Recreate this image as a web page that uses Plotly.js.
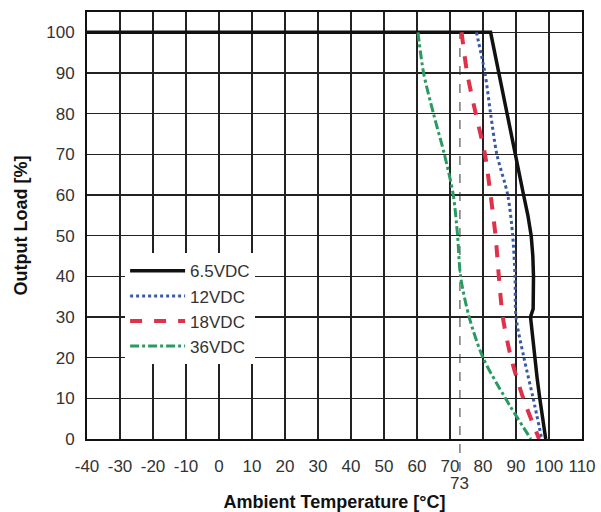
<!DOCTYPE html>
<html>
<head>
<meta charset="utf-8">
<script src="https://cdn.plot.ly/plotly-3.0.1.min.js"></script>
<style>html,body{margin:0;padding:0;background:#fff;}#chart{width:601px;height:512px;}</style>
</head>
<body>
<div id="chart"></div>
<script>
// Series data: ambient temperature (°C) vs output load (%)
const seriesNames = ["6.5VDC", "12VDC", "18VDC", "36VDC"];
const temp65 = [-40, 82.3, 92.3, 93.6, 94.6, 95.1, 95.3, 95.4, 95.2, 94.4, 95.0, 95.7, 96.4, 97.2, 98.1, 99];
const load65 = [100, 100, 60, 55, 50, 45, 40, 35, 32, 30, 25, 20, 15, 10, 5, 0];
const temp12 = [78, 80.6, 82.3, 84.2, 87.5, 89, 89.7, 90, 92.4, 95.2, 97.8];
const load12 = [100, 90, 80, 70, 60, 50, 40, 30, 20, 10, 0];
const temp18 = [73.5, 75.2, 77.8, 80.6, 82.3, 83.8, 84.8, 86, 88.5, 92.2, 97];
const load18 = [100, 90, 80, 70, 60, 50, 40, 30, 20, 10, 0];
const temp36 = [60.3, 62, 65, 68.3, 71, 72.3, 73.2, 75.8, 80, 86.8, 94.5];
const load36 = [100, 90, 80, 70, 60, 50, 40, 30, 20, 10, 0];
const xTicks = [-40, -30, -20, -10, 0, 10, 20, 30, 40, 50, 60, 70, 80, 90, 100, 110];
const yTicks = [0, 10, 20, 30, 40, 50, 60, 70, 80, 90, 100];
const markTemp = 73;

const FONT = "'Liberation Sans Narrow', 'Arial Narrow', 'Liberation Sans', Arial, sans-serif";

const traces = [
  {x: temp65, y: load65, name: seriesNames[0], mode: "lines", line: {color: "#111111", width: 3.5, dash: "solid"}},
  {x: temp12, y: load12, name: seriesNames[1], mode: "lines", line: {color: "#3a5aa6", width: 3, dash: "dot", shape: "spline", smoothing: 0.8}},
  {x: temp18, y: load18, name: seriesNames[2], mode: "lines", line: {color: "#e0304a", width: 4, dash: "dash", shape: "spline", smoothing: 0.8}},
  {x: temp36, y: load36, name: seriesNames[3], mode: "lines", line: {color: "#2a9a62", width: 3, dash: "dashdot", shape: "spline", smoothing: 0.8}}
];

const layout = {
  width: 601, height: 512,
  margin: {l: 87, r: 19, t: 12, b: 73},
  paper_bgcolor: "#fff", plot_bgcolor: "#fff",
  font: {family: FONT, size: 17, color: "#333"},
  showlegend: true,
  legend: {
    x: 0.077, y: 0.435, xanchor: "left", yanchor: "top",
    bgcolor: "#ffffff", borderwidth: 0,
    font: {family: FONT, size: 17, color: "#333"},
    itemwidth: 55, tracegroupgap: 0
  },
  xaxis: {
    range: [-40, 110], tickvals: xTicks, ticktext: xTicks.map(String),
    showgrid: true, gridcolor: "#222", gridwidth: 1.5,
    zeroline: false, showline: true, linecolor: "#111", linewidth: 2, mirror: true,
    ticks: "", ticklabelstandoff: 11,
    title: {text: "<b>Ambient Temperature [°C]</b>", font: {family: FONT, size: 18, color: "#111"}, standoff: 30}
  },
  yaxis: {
    range: [0, 105], tickvals: yTicks, ticktext: yTicks.map(String),
    showgrid: true, gridcolor: "#222", gridwidth: 1.5,
    zeroline: false, showline: true, linecolor: "#111", linewidth: 2, mirror: true,
    ticks: "", ticklabelstandoff: 7,
    title: {text: "<b>Output Load [%]</b>", font: {family: FONT, size: 18, color: "#111"}, standoff: 14}
  },
  shapes: [
    {type: "line", xref: "x", yref: "paper", x0: markTemp, x1: markTemp, y0: -0.075, y1: 100/105,
     line: {color: "#777", width: 1.5, dash: "dash"}, layer: "below"}
  ],
  annotations: [
    {xref: "x", yref: "paper", x: markTemp, y: -0.105, text: String(markTemp), showarrow: false,
     font: {family: FONT, size: 17, color: "#333"}, xanchor: "center", yanchor: "middle"}
  ]
};

Plotly.newPlot("chart", traces, layout, {displayModeBar: false, staticPlot: true});
</script>
</body>
</html>
